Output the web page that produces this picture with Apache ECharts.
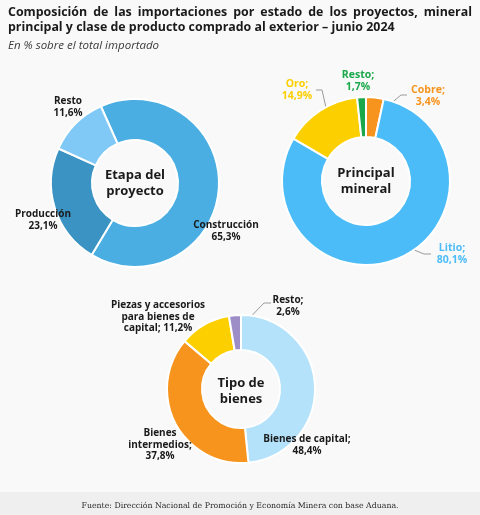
<!DOCTYPE html>
<html>
<head>
<meta charset="utf-8">
<script src="https://cdn.jsdelivr.net/npm/echarts@6/dist/echarts.min.js"></script>
<style>
html,body{margin:0;padding:0;background:#f9f9f9;}
#c{width:480px;height:515px;}
</style>
</head>
<body>
<div id="c"></div>
<script>
// ---- data ----
const etapaCats = ['Construcción', 'Producción', 'Resto'];
const etapaVals = [65.3, 23.1, 11.6];
const etapaLabels = ['Construcción\n', 'Producción\n', 'Resto\n'];

const mineralCats = ['Cobre', 'Litio', 'Oro', 'Resto'];
const mineralVals = [3.4, 80.1, 14.9, 1.7];
const mineralLabels = ['Cobre;\n', 'Litio;\n', 'Oro;\n', 'Resto;\n'];

const tipoCats = ['Bienes de capital', 'Bienes intermedios', 'Piezas y accesorios para bienes de capital', 'Resto'];
const tipoVals = [48.4, 37.8, 11.2, 2.6];
const tipoLabels = ['Bienes de capital;\n', 'Bienes\nintermedios;\n', 'Piezas y accesorios\npara bienes de\ncapital; ', 'Resto;\n'];

const titleLine1 = 'Composición de las importaciones por estado de los proyectos, mineral';
const titleLine2 = 'principal y clase de producto comprado al exterior – junio 2024';
const subtitle = 'En % sobre el total importado';
const source = 'Fuente: Dirección Nacional de Promoción y Economía Minera con base Aduana.';

// ---- styles / layout ----
const FONT = "'Open Sans', 'DejaVu Sans', sans-serif";
const etapaColors = ['#4aaee2', '#3a93c3', '#80c9f6'];
const mineralColors = ['#f7941d', '#4cbcf8', '#fccf00', '#1aa84b'];
const tipoColors = ['#b4e2fb', '#f7941d', '#fccf00', '#9d8ec8'];

const etapaPos = [[226, 231], [43, 220], [68, 107]];
const mineralPos = [[428, 96], [452, 254], [297, 90], [358, 81]];
const mineralLines = [[[376, 116], [401, 95], [407, 95]], [[390, 240], [424, 254], [431, 254]], [[330, 125], [322, 90], [316, 90]], null];
const tipoPos = [[307, 445], [160, 445], [158, 317], [288, 306]];
const tipoLines = [null, null, null, [[235, 333], [264, 303], [271, 303]]];

function fmt(v) { return v.toFixed(1).replace('.', ',') + '%'; }

function buildData(cats, vals, colors, lines) {
  return cats.map((c, i) => ({
    name: c, value: vals[i],
    itemStyle: { color: colors[i] },
    labelLine: { show: !!(lines && lines[i]) }
  }));
}

function layoutFn(pos, lines) {
  return function (p) {
    const q = pos[p.dataIndex];
    const o = { x: q[0], y: q[1], align: 'center', verticalAlign: 'middle' };
    if (lines && lines[p.dataIndex]) o.labelLinePoints = lines[p.dataIndex];
    return o;
  };
}

// justify first title line
const ctx = document.createElement('canvas').getContext('2d');
const titleFont = 'bold 12.4px ' + FONT;
ctx.font = titleFont;
const words = titleLine1.split(' ');
const left = 8, right = 472;
const wsum = words.reduce((s, w) => s + ctx.measureText(w).width, 0);
const gap = (right - left - wsum) / (words.length - 1);
const titleEls = [];
let xx = left;
words.forEach(w => {
  titleEls.push({ type: 'text', left: xx, top: 6, style: { text: w, font: titleFont, fill: '#1a1a1a' } });
  xx += ctx.measureText(w).width + gap;
});

const chart = echarts.init(document.getElementById('c'));

const centerText = (x, y, t) => ({
  type: 'text', x: x, y: y,
  style: { text: t, font: 'bold 13px ' + FONT, fill: '#1a1a1a', align: 'center', verticalAlign: 'middle', lineHeight: 16 }
});

chart.setOption({
  backgroundColor: '#f9f9f9',
  animation: false,
  graphic: [
    ...titleEls,
    { type: 'text', left: left, top: 21, style: { text: titleLine2, font: titleFont, fill: '#1a1a1a' } },
    { type: 'text', left: left, top: 40, style: { text: subtitle, font: 'italic 11.5px ' + FONT, fill: '#3a3a3a' } },
    { type: 'rect', shape: { x: 0, y: 492, width: 480, height: 23 }, style: { fill: '#efefef' } },
    { type: 'text', x: 240, y: 506, style: { text: source, font: "7.8px 'DejaVu Serif', serif", fill: '#2a2a2a', align: 'center', verticalAlign: 'middle' } },
    centerText(135, 183, 'Etapa del\nproyecto'),
    centerText(366, 181, 'Principal\nmineral'),
    centerText(241, 391, 'Tipo de\nbienes')
  ],
  series: [
    {
      type: 'pie', center: [135, 183], radius: [43, 84], startAngle: 114,
      avoidLabelOverlap: false,
      itemStyle: { borderColor: '#ffffff', borderWidth: 2 },
      label: {
        show: true, position: 'outside', width: 200, overflow: 'none',
        fontFamily: FONT, fontWeight: 'bold', fontSize: 10, lineHeight: 12, color: '#1a1a1a',
        formatter: p => etapaLabels[p.dataIndex] + fmt(p.value)
      },
      labelLine: { show: false },
      labelLayout: layoutFn(etapaPos, null),
      data: buildData(etapaCats, etapaVals, etapaColors, null)
    },
    {
      type: 'pie', center: [366, 181], radius: [44, 84], startAngle: 90,
      avoidLabelOverlap: false,
      itemStyle: { borderColor: '#ffffff', borderWidth: 2 },
      label: {
        show: true, position: 'outside', width: 200, overflow: 'none',
        fontFamily: FONT, fontWeight: 'bold', fontSize: 10.5, lineHeight: 12,
        color: 'inherit',
        formatter: p => mineralLabels[p.dataIndex] + fmt(p.value)
      },
      labelLine: { lineStyle: { color: '#9a9a9a', width: 1 } },
      labelLayout: layoutFn(mineralPos, mineralLines),
      data: buildData(mineralCats, mineralVals, mineralColors, mineralLines)
    },
    {
      type: 'pie', center: [241, 389], radius: [39, 74], startAngle: 90,
      avoidLabelOverlap: false,
      itemStyle: { borderColor: '#ffffff', borderWidth: 2 },
      label: {
        show: true, position: 'outside', width: 200, overflow: 'none',
        fontFamily: FONT, fontWeight: 'bold', fontSize: 10, lineHeight: 11.5, color: '#1a1a1a',
        formatter: p => tipoLabels[p.dataIndex] + fmt(p.value)
      },
      labelLine: { lineStyle: { color: '#9a9a9a', width: 1 } },
      labelLayout: layoutFn(tipoPos, tipoLines),
      data: buildData(tipoCats, tipoVals, tipoColors, tipoLines)
    }
  ]
});
</script>
</body>
</html>
